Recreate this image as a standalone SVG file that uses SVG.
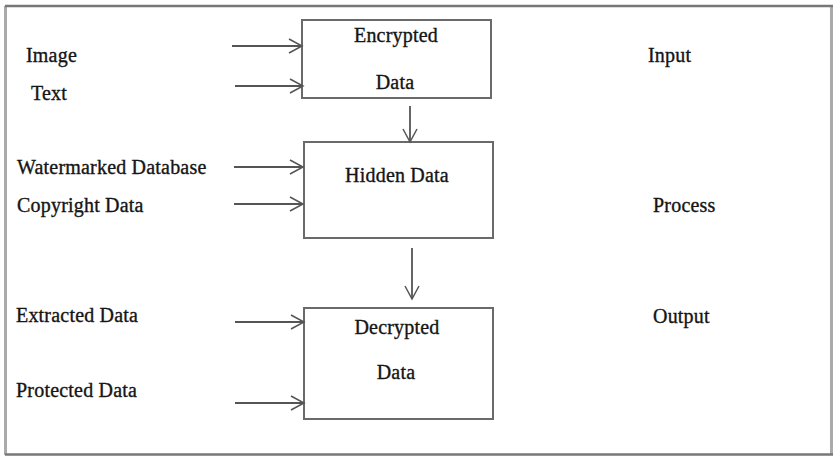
<svg xmlns="http://www.w3.org/2000/svg" width="840" height="462" viewBox="0 0 840 462">
<defs>
<marker id="ah" markerWidth="16" markerHeight="16" refX="14" refY="8" orient="auto" markerUnits="userSpaceOnUse">
<path d="M1,1 L14,8 L1,15" fill="none" stroke="#555" stroke-width="1.5"/>
</marker>
</defs>
<style>
text{font-family:"Liberation Serif","Times New Roman",serif;font-size:20px;fill:#151515;stroke:#151515;stroke-width:0.35;letter-spacing:0.2px}
.c{text-anchor:middle}
.box{fill:#fff;stroke:#6a6a6a;stroke-width:2}
.con{stroke:#555;stroke-width:1.8;fill:none;marker-end:url(#ah)}
</style>
<rect width="840" height="462" fill="#fff"/>
<g id="frame">
<line x1="5.5" y1="6" x2="5.5" y2="455" stroke="#aaa" stroke-width="3"/>
<line x1="831.5" y1="6" x2="831.5" y2="455" stroke="#aaa" stroke-width="3"/>
<line x1="5" y1="6" x2="833" y2="6" stroke="#777" stroke-width="2.5"/>
<line x1="5" y1="454.5" x2="833" y2="454.5" stroke="#777" stroke-width="2.5"/>
</g>
<g id="n-encrypted">
<rect class="box" x="302" y="20" width="189" height="78"/>
<text class="c" x="396" y="42">Encrypted</text>
<text class="c" x="395" y="89">Data</text>
</g>
<g id="n-hidden">
<rect class="box" x="304" y="142" width="189" height="96"/>
<text class="c" x="397" y="182">Hidden Data</text>
</g>
<g id="n-decrypted">
<rect class="box" x="304" y="308" width="189" height="111"/>
<text class="c" x="397" y="334">Decrypted</text>
<text class="c" x="396" y="379">Data</text>
</g>
<g id="labels">
<text x="26" y="62">Image</text>
<text x="31" y="100">Text</text>
<text x="17" y="174">Watermarked Database</text>
<text x="17" y="212">Copyright Data</text>
<text x="16" y="322">Extracted Data</text>
<text x="16" y="397">Protected Data</text>
<text x="648" y="62">Input</text>
<text x="653" y="212">Process</text>
<text x="653" y="323">Output</text>
</g>
<g id="connectors">
<line class="con" x1="232" y1="46" x2="302" y2="46"/>
<line class="con" x1="235" y1="86" x2="303" y2="86"/>
<line class="con" x1="234" y1="167" x2="303" y2="167"/>
<line class="con" x1="234" y1="204" x2="303" y2="204"/>
<line class="con" x1="235" y1="322" x2="304" y2="322"/>
<line class="con" x1="235" y1="403" x2="304" y2="403"/>
<line class="con" x1="410" y1="106" x2="410" y2="142"/>
<line class="con" x1="412" y1="248" x2="412" y2="299"/>
</g>
</svg>
